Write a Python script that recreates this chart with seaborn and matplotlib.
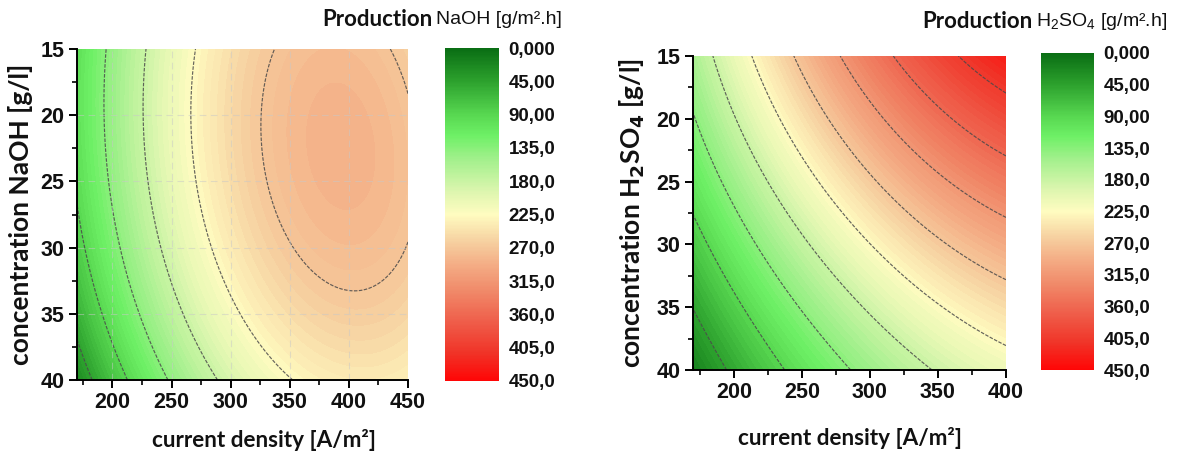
import numpy as np
import matplotlib
matplotlib.use("Agg")
import matplotlib.pyplot as plt
import seaborn as sns
from matplotlib.colors import LinearSegmentedColormap, Normalize
from matplotlib.cm import ScalarMappable
from matplotlib.ticker import MultipleLocator, FixedLocator, FixedFormatter

# ---------------------------------------------------------------------------
# Production rate [g/m2.h] at grid nodes (rows: concentration, cols: current)
# ---------------------------------------------------------------------------
naoh_current = [170, 200, 250, 300, 350, 400, 450]
naoh_conc = [15, 20, 25, 30, 35, 40]
naoh_rate = [
    [98, 143, 206, 246, 273, 281, 263],
    [101, 145, 210, 253, 280, 289, 271],
    [92, 139, 205, 251, 279, 288, 276],
    [76, 123, 190, 239, 271, 280, 266],
    [63, 104, 168, 221, 250, 262, 255],
    [22, 71, 141, 188, 221, 240, 236],
]

h2so4_current = [170, 200, 250, 300, 350, 400]
h2so4_conc = [15, 20, 25, 30, 35, 40]
h2so4_rate = [
    [152, 205, 282, 343, 390, 430],
    [135, 176, 249, 301, 352, 387],
    [112, 143, 207, 268, 304, 344],
    [75, 109, 172, 230, 267, 297],
    [50, 83, 135, 187, 220, 248],
    [15, 48, 107, 150, 177, 212],
]

scale_ticks = [0, 45, 90, 135, 180, 225, 270, 315, 360, 405, 450]
scale_labels = ["0,000", "45,00", "90,00", "135,0", "180,0", "225,0",
                "270,0", "315,0", "360,0", "405,0", "450,0"]
line_levels = [45, 90, 135, 180, 225, 270, 315, 360, 405]

# green -> pale yellow -> red scale
cmap = LinearSegmentedColormap.from_list("prod", [
    (0 / 450, "#0a6e14"),
    (45 / 450, "#2da22e"),
    (90 / 450, "#58d851"),
    (118 / 450, "#6ef066"),
    (150 / 450, "#a2f08c"),
    (195 / 450, "#def6b0"),
    (225 / 450, "#fffcc0"),
    (262 / 450, "#f6d0a0"),
    (292 / 450, "#f4ae86"),
    (330 / 450, "#f08868"),
    (370 / 450, "#ef5e4a"),
    (412 / 450, "#f03428"),
    (450 / 450, "#ff0606"),
])


def response_surface(xs, ys, table, nx=300, ny=300):
    """Least-squares cubic surface through the tabulated node values."""
    xs = np.asarray(xs, float)
    ys = np.asarray(ys, float)
    z = np.asarray(table, float)
    gx, gy = np.meshgrid(xs, ys)
    xc, xr = xs.mean(), (xs.max() - xs.min()) / 2
    yc, yr = ys.mean(), (ys.max() - ys.min()) / 2

    def terms(a, b):
        a = (a - xc) / xr
        b = (b - yc) / yr
        return np.stack([np.ones_like(a), a, b, a * a, a * b, b * b,
                         a ** 3, a * a * b, a * b * b, b ** 3], axis=-1)

    coef, *_ = np.linalg.lstsq(terms(gx.ravel(), gy.ravel()), z.ravel(), rcond=None)
    fx = np.linspace(xs.min(), xs.max(), nx)
    fy = np.linspace(ys.min(), ys.max(), ny)
    FX, FY = np.meshgrid(fx, fy)
    return FX, FY, terms(FX, FY) @ coef


sns.set_theme(style="white")
plt.rcParams["font.family"] = ["Liberation Sans", "DejaVu Sans"]
plt.rcParams["mathtext.fontset"] = "dejavusans"

W, H = 1188, 459
fig = plt.figure(figsize=(W / 100, H / 100), dpi=100)


def frac(x0, y0, x1, y1):
    return [x0 / W, 1 - y1 / H, (x1 - x0) / W, (y1 - y0) / H]


label_font = ["Lato", "DejaVu Sans"]
tick_font = ["Liberation Sans", "DejaVu Sans"]


def draw_panel(ax_box, cax_box, xs, ys, table, xmax, ylabel, title_chem,
               title_x, title_y, grid, ylab_x, xlab_y, xlab_x):
    ax = fig.add_axes(frac(*ax_box))
    cax = fig.add_axes(frac(*cax_box))
    norm = Normalize(0, 450)
    FX, FY, FZ = response_surface(xs, ys, table)
    ax.contourf(FX, FY, FZ, levels=np.linspace(0, 450, 91), cmap=cmap, norm=norm)
    ax.contour(FX, FY, FZ, levels=line_levels, colors="#4a4a4a",
               linewidths=0.85, linestyles=[(0, (3.0, 1.2))], alpha=0.85)
    if grid:
        for v in [20, 25, 30, 35]:
            ax.axhline(v, color="#c8c8c8", lw=0.8, ls=(0, (6, 4)), alpha=0.5)
        for v in [200, 250, 300, 350, 400]:
            ax.axvline(v, color="#c8c8c8", lw=0.8, ls=(0, (6, 4)), alpha=0.5)
    ax.set_xlim(170, xmax)
    ax.set_ylim(40, 15)
    ax.set_xticks(list(range(200, xmax + 1, 50)))
    ax.xaxis.set_minor_locator(MultipleLocator(25))
    ax.yaxis.set_major_locator(MultipleLocator(5))
    ax.yaxis.set_minor_locator(MultipleLocator(2.5))
    ax.tick_params(which="major", direction="out", length=6, width=1.4,
                   color="black", labelsize=15.5, pad=3, bottom=True, left=True,
                   labelcolor="#111111")
    ax.tick_params(which="minor", direction="out", length=3.5, width=1.2,
                   color="black", bottom=True, left=True)
    for lab in ax.get_xticklabels() + ax.get_yticklabels():
        lab.set_fontweight("bold")
        lab.set_family(tick_font)
    sns.despine(ax=ax)
    for s in ["left", "bottom"]:
        ax.spines[s].set_color("black")
        ax.spines[s].set_linewidth(1.4)
    ax.set_xlabel("current density [A/m²]", fontsize=16.2, fontweight="bold",
                  family=label_font, va="center", ha="center", color="#111111")
    ax.xaxis.set_label_coords(xlab_x, xlab_y)
    ax.set_ylabel(ylabel, fontsize=19, fontweight="bold", family=label_font,
                  va="center", ha="center", color="#111111")
    ax.yaxis.set_label_coords(ylab_x, 0.5)

    sm = ScalarMappable(norm=Normalize(0, 450), cmap=cmap)
    cb = fig.colorbar(sm, cax=cax)
    cb.outline.set_visible(False)
    cax.set_ylim(450, 0)
    cax.yaxis.set_major_locator(FixedLocator(scale_ticks))
    cax.yaxis.set_major_formatter(FixedFormatter(scale_labels))
    cax.yaxis.set_minor_locator(FixedLocator([]))
    cax.tick_params(length=0, pad=7, labelsize=13.5, labelcolor="#111111")
    for lab in cax.get_yticklabels():
        lab.set_fontweight("bold")
        lab.set_family(tick_font)

    ty = 1 - title_y / H
    fig.text(title_x / W, ty, "Production", ha="right", va="center",
             fontsize=16, fontweight="bold", family=label_font, color="#111111")
    fig.text((title_x + 3) / W, ty, title_chem, ha="left", va="center",
             fontsize=14, family=tick_font, color="#111111")
    return ax


draw_panel((77, 49, 408, 380), (445, 48, 499, 381),
           naoh_current, naoh_conc, naoh_rate, 450,
           "concentration NaOH [g/l]", "NaOH [g/m².h]", 433, 20, True,
           -0.172, -0.181, 0.565)
draw_panel((693, 56, 1006, 370), (1041, 53, 1094, 370),
           h2so4_current, h2so4_conc, h2so4_rate, 400,
           r"concentration H$_\mathbf{2}$SO$_\mathbf{4}$ [g/l]",
           r"H$_\mathregular{2}$SO$_\mathregular{4}$ [g/m².h]", 1033, 22, False,
           -0.195, -0.217, 0.5)

fig.savefig("out.png", dpi=100, facecolor="white")
